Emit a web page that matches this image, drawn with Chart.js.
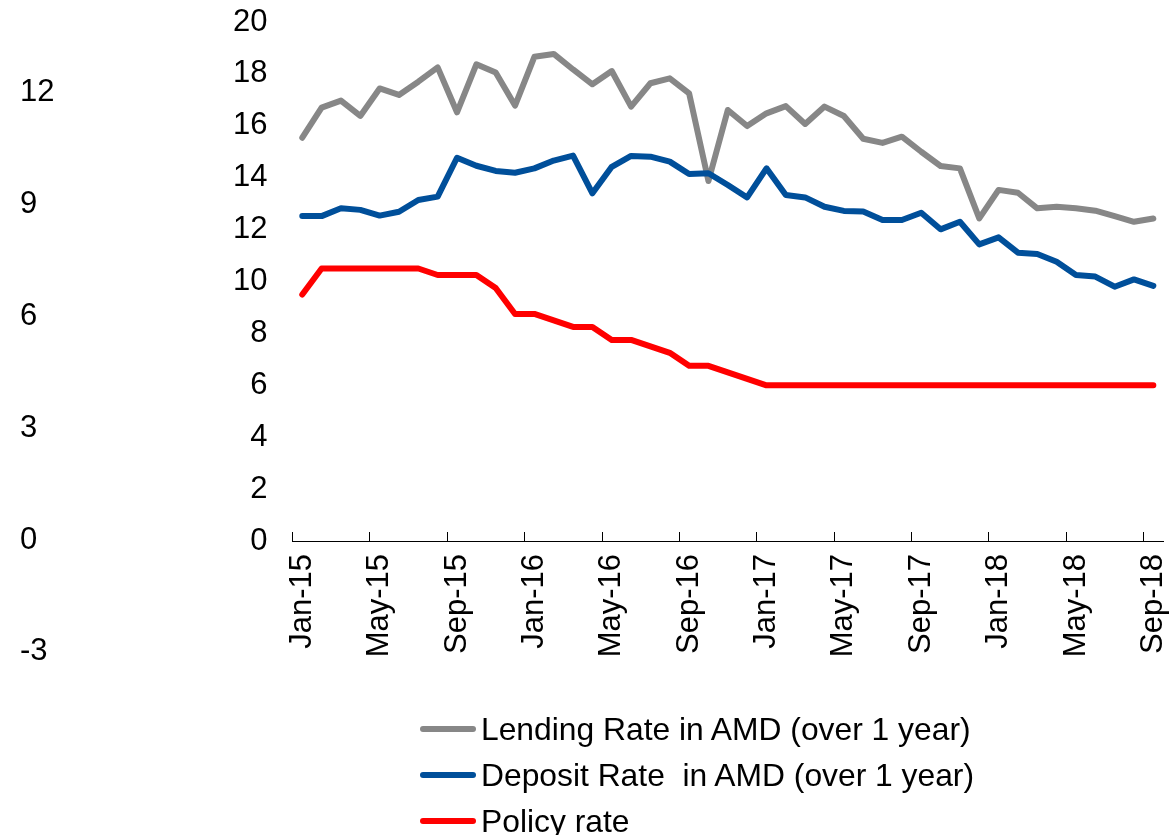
<!DOCTYPE html>
<html>
<head>
<meta charset="utf-8">
<title>Interest rates in AMD</title>
<script src="https://cdn.jsdelivr.net/npm/chart.js@4.4.1/dist/chart.umd.min.js"></script>
<style>
  html, body { margin: 0; padding: 0; background: #fff; }
  #wrap { position: relative; width: 1176px; height: 835px; overflow: hidden;
          font-family: "Liberation Sans", Arial, sans-serif; }
  #wrap canvas { position: absolute; top: 0; left: 0; }
  #legend { position: absolute; left: 420px; top: 706px; }
  .item { display: flex; align-items: center; height: 46px; font-size: 31.8px; color: #000; white-space: pre; }
  .swatch { width: 56px; height: 6px; border-radius: 3px; margin-right: 5px; }
</style>
</head>
<body>
<div id="wrap">
  <canvas id="rateChart" width="1176" height="835"></canvas>
  <canvas id="sideAxis" width="120" height="835"></canvas>
  <div id="legend"></div>
</div>
<script>
// monthly, Jan-15 .. Sep-18
const months = [
  'Jan-15', 'Feb-15', 'Mar-15', 'Apr-15', 'May-15', 'Jun-15', 'Jul-15', 'Aug-15', 'Sep-15', 'Oct-15', 'Nov-15', 'Dec-15',
  'Jan-16', 'Feb-16', 'Mar-16', 'Apr-16', 'May-16', 'Jun-16', 'Jul-16', 'Aug-16', 'Sep-16', 'Oct-16', 'Nov-16', 'Dec-16',
  'Jan-17', 'Feb-17', 'Mar-17', 'Apr-17', 'May-17', 'Jun-17', 'Jul-17', 'Aug-17', 'Sep-17', 'Oct-17', 'Nov-17', 'Dec-17',
  'Jan-18', 'Feb-18', 'Mar-18', 'Apr-18', 'May-18', 'Jun-18', 'Jul-18', 'Aug-18', 'Sep-18'
];

const lendingRate = [
  15.54, 16.70, 16.97, 16.38, 17.44, 17.19, 17.70, 18.25, 16.52, 18.37, 18.05, 16.78,
  18.66, 18.77, 18.17, 17.60, 18.11, 16.74, 17.64, 17.83, 17.25, 13.87, 16.61, 15.99,
  16.48, 16.76, 16.07, 16.74, 16.38, 15.50, 15.34, 15.58, 15.00, 14.45, 14.36, 12.43,
  13.53, 13.42, 12.82, 12.88, 12.82, 12.73, 12.52, 12.30, 12.43
];

const depositRate = [
  12.52, 12.52, 12.82, 12.76, 12.54, 12.69, 13.14, 13.27, 14.77, 14.46, 14.26, 14.19,
  14.36, 14.66, 14.85, 13.40, 14.42, 14.84, 14.81, 14.62, 14.14, 14.17, 13.72, 13.24,
  14.36, 13.33, 13.24, 12.88, 12.72, 12.70, 12.37, 12.37, 12.65, 12.01, 12.30, 11.43,
  11.70, 11.11, 11.06, 10.76, 10.25, 10.19, 9.80, 10.08, 9.83
];

const policyRate = [
  9.5, 10.5, 10.5, 10.5, 10.5, 10.5, 10.5, 10.25, 10.25, 10.25, 9.75, 8.75,
  8.75, 8.5, 8.25, 8.25, 7.75, 7.75, 7.5, 7.25, 6.75, 6.75, 6.5, 6.25,
  6, 6, 6, 6, 6, 6, 6, 6, 6, 6, 6, 6,
  6, 6, 6, 6, 6, 6, 6, 6, 6
];

const seriesNames = [
  'Lending Rate in AMD (over 1 year)',
  'Deposit Rate  in AMD (over 1 year)',
  'Policy rate'
];
const seriesColors = ['#878787', '#004f9a', '#ff0000'];

Chart.defaults.font.family = '"Liberation Sans", Arial, sans-serif';
Chart.defaults.font.size = 31;
Chart.defaults.color = '#000';

function series(i, data, order) {
  return {
    label: seriesNames[i],
    data: data,
    borderColor: seriesColors[i],
    backgroundColor: seriesColors[i],
    borderWidth: 6,
    pointRadius: 0,
    tension: 0,
    borderJoinStyle: 'round',
    borderCapStyle: 'round',
    order: order
  };
}

const chart = new Chart(document.getElementById('rateChart'), {
  type: 'line',
  data: {
    labels: months,
    datasets: [
      series(0, lendingRate, 2),
      series(1, depositRate, 1),
      series(2, policyRate, 0)
    ]
  },
  options: {
    responsive: false,
    animation: false,
    layout: { autoPadding: false, padding: { top: 22, right: 13, bottom: 0, left: 0 } },
    plugins: { legend: { display: false }, tooltip: { enabled: false } },
    scales: {
      x: {
        offset: true,
        grid: {
          offset: true,
          drawOnChartArea: false,
          tickLength: -9,
          // tick marks only every fourth month, pointing into the plot
          color: c => (c.index % 4 === 0 ? '#000' : 'rgba(0,0,0,0)')
        },
        border: { color: '#000', width: 1 },
        ticks: {
          autoSkip: false,
          maxRotation: 90,
          minRotation: 90,
          padding: 22,
          callback: (v, i) => (i % 4 === 0 ? months[i] : '')
        },
        afterFit: s => {
          s.height = 294;
          s.paddingLeft = 0;
          s.paddingRight = 0;
        }
      },
      y: {
        min: 0,
        max: 20,
        ticks: { stepSize: 2, padding: 25 },
        grid: { display: false, drawTicks: false },
        border: { display: false },
        afterFit: s => {
          s.width = 292.6;
          s.paddingTop = 0;
          s.paddingBottom = 0;
        }
      }
    }
  }
});

// separate axis on the far left (-3 .. 12)
new Chart(document.getElementById('sideAxis'), {
  type: 'line',
  data: { labels: [], datasets: [] },
  options: {
    responsive: false,
    animation: false,
    layout: { autoPadding: false, padding: { top: 92.8, bottom: 183.2, left: 20, right: 0 } },
    plugins: { legend: { display: false }, tooltip: { enabled: false } },
    scales: {
      x: { display: false },
      y: {
        min: -3,
        max: 12,
        ticks: { stepSize: 3, crossAlign: 'far' },
        grid: { display: false, drawTicks: false },
        border: { display: false }
      }
    }
  }
});

// legend, one series per row
const legend = document.getElementById('legend');
chart.data.datasets.forEach(ds => {
  const row = document.createElement('div');
  row.className = 'item';
  const sw = document.createElement('span');
  sw.className = 'swatch';
  sw.style.background = ds.borderColor;
  const txt = document.createElement('span');
  txt.textContent = ds.label;
  row.appendChild(sw);
  row.appendChild(txt);
  legend.appendChild(row);
});
</script>
</body>
</html>
